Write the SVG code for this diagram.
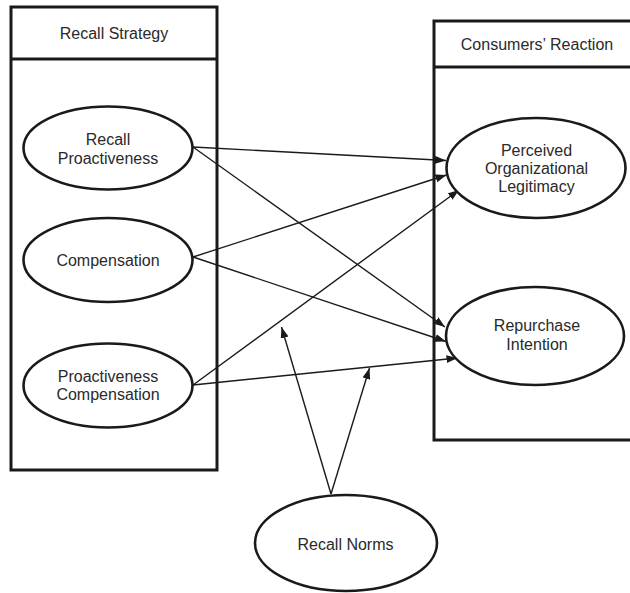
<svg xmlns="http://www.w3.org/2000/svg" width="630" height="593" viewBox="0 0 630 593">
<defs>
<style>
.box{fill:none;stroke:#1a1a1a;stroke-width:3}
.ell{fill:#fff;stroke:#1a1a1a;stroke-width:2.6}
.lbl{font-family:"Liberation Sans",Arial,sans-serif;font-size:16px;fill:#2a2a2a;text-anchor:middle}
.edge{stroke:#1a1a1a;stroke-width:1.4;fill:none;marker-end:url(#ah)}
</style>
<marker id="ah" markerUnits="userSpaceOnUse" markerWidth="12" markerHeight="10" refX="11" refY="4" orient="auto">
<path d="M0,0 L11,4 L0,8 z" fill="#1a1a1a"/>
</marker>
</defs>
<rect width="630" height="593" fill="#fff"/>
<g id="recall-strategy">
<rect class="box" x="11" y="7" width="206" height="463"/>
<line class="box" x1="11" y1="59" x2="217" y2="59"/>
<text class="lbl" x="114" y="39">Recall Strategy</text>
</g>
<g id="consumers-reaction">
<rect class="box" x="434" y="21" width="210" height="419"/>
<line class="box" x1="434" y1="67" x2="644" y2="67"/>
<text class="lbl" x="537" y="50">Consumers’ Reaction</text>
</g>
<g id="connectors">
<line class="edge" x1="193" y1="147" x2="446" y2="160.5"/>
<line class="edge" x1="193" y1="147" x2="445" y2="327"/>
<line class="edge" x1="193" y1="257" x2="446.5" y2="175"/>
<line class="edge" x1="193" y1="257" x2="446" y2="341.5"/>
<line class="edge" x1="193" y1="385" x2="459" y2="190"/>
<line class="edge" x1="193" y1="385" x2="457.5" y2="358"/>
<line class="edge" x1="331" y1="494" x2="281.5" y2="327"/>
<line class="edge" x1="331" y1="494" x2="369.5" y2="368"/>
</g>
<g id="recall-proactiveness">
<ellipse class="ell" cx="108" cy="148" rx="84.5" ry="41.5"/>
<text class="lbl" x="108" y="145">Recall</text>
<text class="lbl" x="108" y="163.5">Proactiveness</text>
</g>
<g id="compensation">
<ellipse class="ell" cx="108" cy="260" rx="84.5" ry="42"/>
<text class="lbl" x="108" y="265.5">Compensation</text>
</g>
<g id="proactiveness-compensation">
<ellipse class="ell" cx="108" cy="385.5" rx="84.5" ry="42"/>
<text class="lbl" x="108" y="382">Proactiveness</text>
<text class="lbl" x="108" y="400">Compensation</text>
</g>
<g id="perceived-organizational-legitimacy">
<ellipse class="ell" cx="536" cy="168" rx="89.5" ry="50"/>
<text class="lbl" x="536.5" y="156">Perceived</text>
<text class="lbl" x="536.5" y="174">Organizational</text>
<text class="lbl" x="536.5" y="192">Legitimacy</text>
</g>
<g id="repurchase-intention">
<ellipse class="ell" cx="535" cy="336" rx="89" ry="49"/>
<text class="lbl" x="537" y="331">Repurchase</text>
<text class="lbl" x="537" y="349.5">Intention</text>
</g>
<g id="recall-norms">
<ellipse class="ell" cx="346" cy="543" rx="91" ry="48"/>
<text class="lbl" x="345.5" y="550">Recall Norms</text>
</g>
</svg>
